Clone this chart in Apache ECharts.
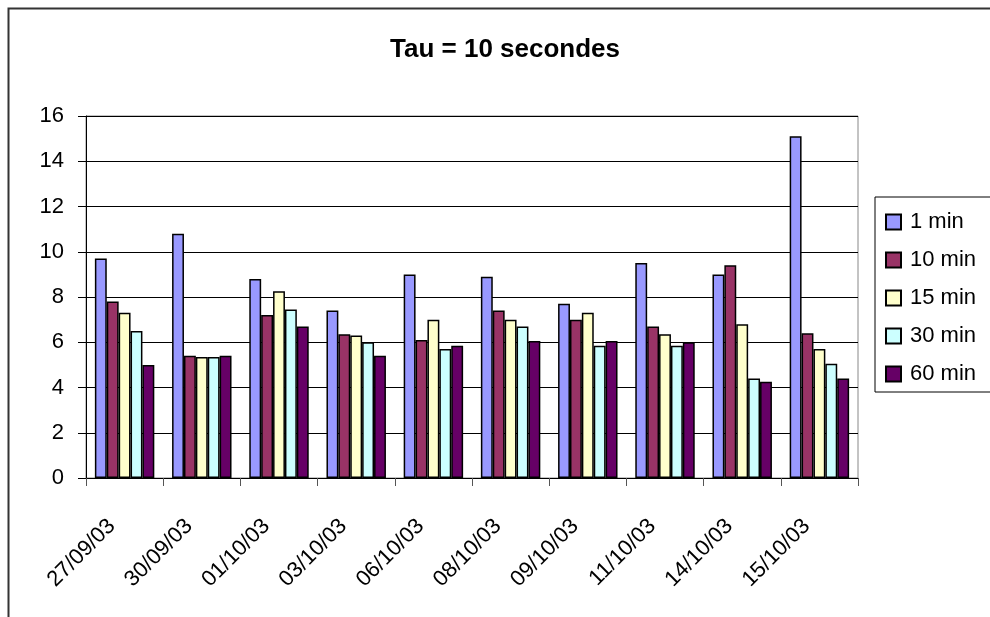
<!DOCTYPE html>
<html>
<head>
<meta charset="utf-8">
<script src="https://cdn.jsdelivr.net/npm/echarts@6/dist/echarts.min.js"></script>
<style>
html,body{margin:0;padding:0;background:#fff;}
#chart{width:990px;height:617px;}
</style>
</head>
<body>
<div id="chart"></div>
<script>
var categories = ['27/09/03','30/09/03','01/10/03','03/10/03','06/10/03','08/10/03','09/10/03','11/10/03','14/10/03','15/10/03'];
var seriesNames = ['1 min','10 min','15 min','30 min','60 min'];
var min1  = [9.7, 10.8, 8.8, 7.4, 9.0, 8.9, 7.7, 9.5, 9.0, 15.1];
var min10 = [7.8, 5.4, 7.2, 6.35, 6.1, 7.4, 7.0, 6.7, 9.4, 6.4];
var min15 = [7.3, 5.35, 8.25, 6.3, 7.0, 7.0, 7.3, 6.35, 6.8, 5.7];
var min30 = [6.5, 5.35, 7.45, 6.0, 5.7, 6.7, 5.85, 5.85, 4.4, 5.05];
var min60 = [5.0, 5.4, 6.7, 5.4, 5.85, 6.05, 6.05, 6.0, 4.25, 4.4];
var yTicks = [0, 2, 4, 6, 8, 10, 12, 14, 16];

var colors = ['#9999FF','#993366','#FFFFCC','#CCFFFF','#660066'];
var values = [min1, min10, min15, min30, min60];
var font = '"Liberation Sans", Arial, sans-serif';

var chart = echarts.init(document.getElementById('chart'), null, {renderer:'canvas'});
var series = seriesNames.map(function(name, i){
  return {
    name: name,
    type: 'bar',
    data: values[i],
    barGap: '0%',
    barCategoryGap: '23%',
    itemStyle: {color: colors[i], borderColor: '#000', borderWidth: 1.5},
    emphasis: {disabled: true}
  };
});

chart.setOption({
  animation: false,
  backgroundColor: '#fff',
  title: {
    text: 'Tau = 10 secondes',
    left: 500, top: 32, textAlign: 'center',
    textStyle: {fontFamily: font, fontSize: 26, fontWeight: 'bold', color: '#000'}
  },
  graphic: [{
    type: 'rect', left: 6, top: 6, silent: true,
    shape: {width: 1100, height: 800},
    style: {fill: 'none', stroke: '#333', lineWidth: 2}
  }],
  legend: {
    orient: 'vertical',
    left: 875, top: 197,
    width: 200,
    padding: [14, 120, 7, 10],
    itemGap: 16,
    itemWidth: 15, itemHeight: 15,
    icon: 'rect',
    borderColor: '#000', borderWidth: 1,
    backgroundColor: '#fff',
    textStyle: {fontFamily: font, fontSize: 22, color: '#000', padding: [0,0,0,4]},
    data: seriesNames
  },
  grid: {
    left: 86, right: 132, top: 116, bottom: 139,
    show: true, borderColor: '#888', borderWidth: 1, backgroundColor: '#fff'
  },
  xAxis: {
    type: 'category',
    data: categories,
    axisLine: {lineStyle: {color: '#000', width: 1}},
    axisTick: {show: true, length: 8, lineStyle: {color: '#555'}},
    axisLabel: {
      interval: 0, rotate: 45, margin: 32,
      padding: [0, 18, 0, 0],
      fontFamily: font, fontSize: 22, color: '#000'
    },
    splitLine: {show: false}
  },
  yAxis: {
    type: 'value',
    min: yTicks[0], max: yTicks[yTicks.length-1], interval: 2,
    axisLine: {show: true, lineStyle: {color: '#000', width: 1}},
    axisTick: {show: true, length: 8, lineStyle: {color: '#000'}},
    axisLabel: {margin: 22, fontFamily: font, fontSize: 22, color: '#000'},
    splitLine: {show: true, lineStyle: {color: '#000', width: 1}}
  },
  series: series
});
</script>
</body>
</html>
